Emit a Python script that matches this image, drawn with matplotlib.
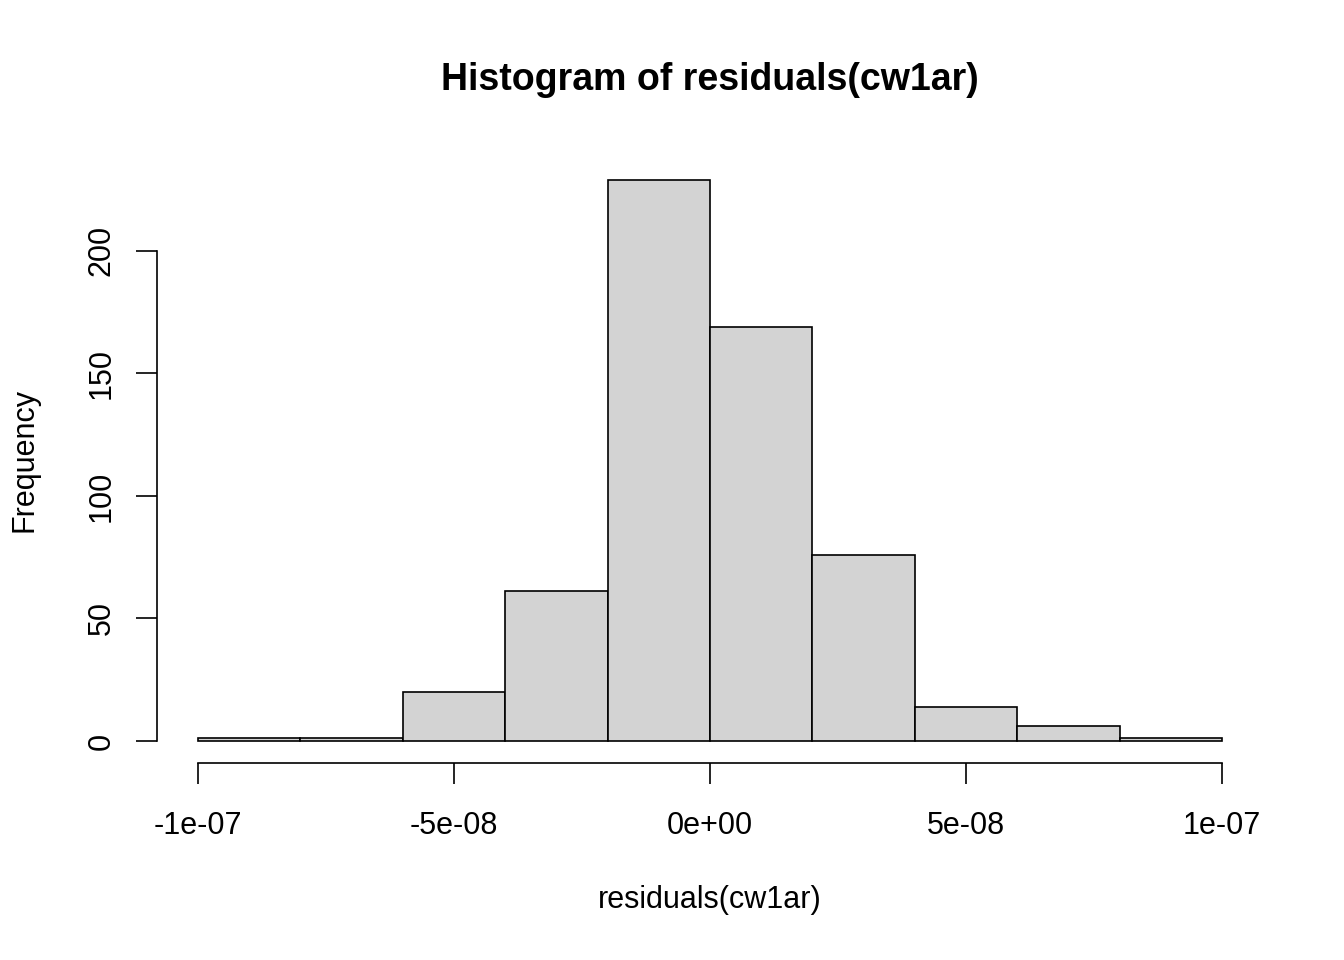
import numpy as np
import matplotlib
matplotlib.use("Agg")
import matplotlib.pyplot as plt

plt.rcParams['font.family'] = ['Liberation Sans', 'DejaVu Sans']

# histogram of residuals, bin edges and counts
bin_edges = [-1e-07, -8e-08, -6e-08, -4e-08, -2e-08, 0.0, 2e-08, 4e-08, 6e-08, 8e-08, 1e-07]
counts = [1, 1, 20, 61, 229, 169, 76, 14, 6, 1]
xtick_vals = [-1e-07, -5e-08, 0.0, 5e-08, 1e-07]
xtick_labels = ["-1e-07", "-5e-08", "0e+00", "5e-08", "1e-07"]
ytick_vals = [0, 50, 100, 150, 200]

W, H = 1344, 960
fig = plt.figure(figsize=(W / 100, H / 100), dpi=100)
ax = fig.add_axes([0.1168, 0.2048, 0.8229, 0.6312])

edges = np.array(bin_edges)
ax.bar(edges[:-1], counts, width=np.diff(edges), align='edge',
       color='#D3D3D3', edgecolor='black', linewidth=1.2)

xr = edges[-1] - edges[0]
ax.set_xlim(edges[0] - 0.04 * xr, edges[-1] + 0.04 * xr)
ymax = max(counts)
ax.set_ylim(-0.04 * ymax, ymax * 1.04)

for s in ['top', 'right']:
    ax.spines[s].set_visible(False)
ax.spines['left'].set_bounds(0, 200)
ax.spines['bottom'].set_bounds(edges[0], edges[-1])
for s in ['left', 'bottom']:
    ax.spines[s].set_linewidth(1.2)

ax.set_xticks(xtick_vals)
ax.set_xticklabels(xtick_labels)
ax.set_yticks(ytick_vals)
ax.set_yticklabels([str(v) for v in ytick_vals], rotation=90, va='center')
ax.tick_params(axis='both', length=15, width=1.2, labelsize=22)
ax.tick_params(axis='x', pad=19)
ax.tick_params(axis='y', pad=14)

fig.text(710 / W, 1 - 900 / H, "residuals(cw1ar)", fontsize=22,
         ha='center', va='center')
fig.text(25 / W, 1 - 460 / H, "Frequency", fontsize=22, rotation=90,
         ha='center', va='center')
fig.text(710 / W, 1 - 80 / H, "Histogram of residuals(cw1ar)", fontsize=27,
         fontweight='bold', ha='center', va='center')

fig.savefig("out.png", dpi=100)
